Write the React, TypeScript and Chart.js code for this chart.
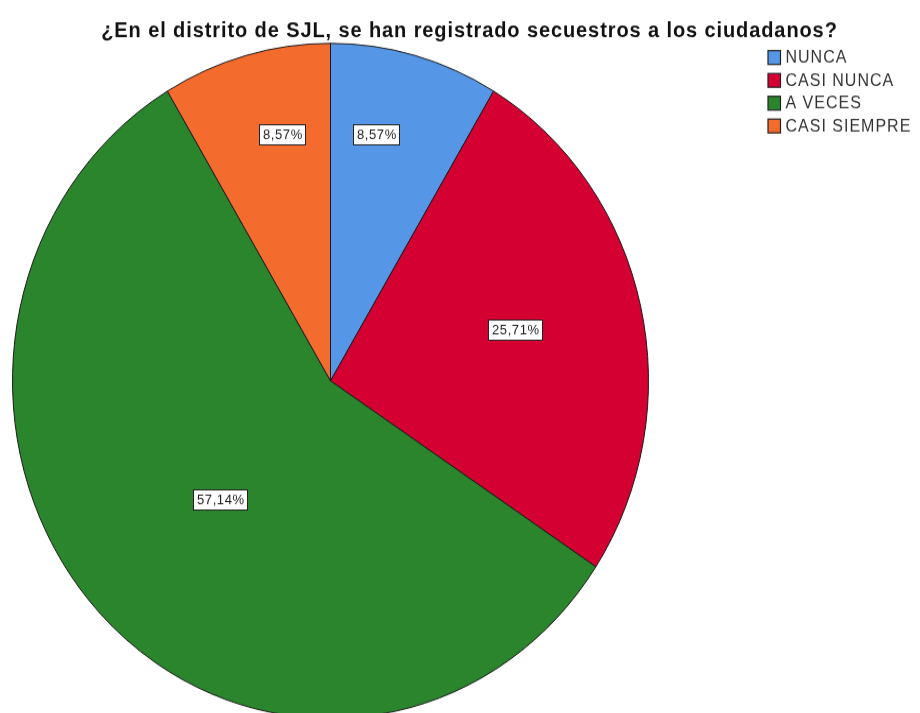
import React, { useEffect, useRef } from "react";
import { Chart, registerables } from "chart.js";

Chart.register(...registerables);

const TITLE = "¿En el distrito de SJL, se han registrado secuestros a los ciudadanos?";
const categories = ["NUNCA", "CASI NUNCA", "A VECES", "CASI SIEMPRE"];
const counts = [3, 9, 20, 3];
const colors = ["#5596e6", "#d50032", "#2a852c", "#f46b2e"];

// label placement within each slice: fraction of angle span, fraction of radius
const labelAngleFrac = [0.36, 0.482, 0.4925, 0.615];
const labelRadiusFrac = [0.744, 0.6, 0.495, 0.746];

const W = 920;
const H = 700;
const SY = 1.061;

const FONT = '"Liberation Sans", Arial, sans-serif';

const overlayPlugin = {
  id: "overlay",
  afterDatasetsDraw(chart: any) {
    const ctx = chart.ctx as CanvasRenderingContext2D;
    const meta = chart.getDatasetMeta(0);
    const data = chart.data.datasets[0].data as number[];
    const total = data.reduce((a, b) => a + b, 0);

    // slice labels
    meta.data.forEach((arc: any, i: number) => {
      const { x, y, startAngle, endAngle, outerRadius } = arc.getProps(
        ["x", "y", "startAngle", "endAngle", "outerRadius"],
        true
      );
      const a = startAngle + labelAngleFrac[i] * (endAngle - startAngle);
      const r = labelRadiusFrac[i] * outerRadius;
      const cx = x + r * Math.cos(a);
      const cy = y + r * Math.sin(a);
      const txt = ((data[i] / total) * 100).toFixed(2).replace(".", ",") + "%";
      ctx.save();
      ctx.font = `13px ${FONT}`;
      (ctx as any).letterSpacing = "0.6px";
      const tw = ctx.measureText(txt).width;
      const bw = Math.round(tw + 6);
      const bh = 19;
      const bx = Math.round(cx - bw / 2) + 0.5;
      const by = Math.round(cy - bh / 2) + 0.5;
      ctx.fillStyle = "#ffffff";
      ctx.fillRect(bx, by, bw, bh);
      ctx.strokeStyle = "#222222";
      ctx.lineWidth = 1;
      ctx.strokeRect(bx, by, bw, bh);
      ctx.fillStyle = "#1e1e1e";
      ctx.textAlign = "left";
      ctx.textBaseline = "middle";
      ctx.fillText(txt, bx + 3.5, by + bh / 2 + 0.5);
      ctx.restore();
    });

    // title
    ctx.save();
    ctx.font = `bold 20px ${FONT}`;
    (ctx as any).letterSpacing = "0.9px";
    ctx.fillStyle = "#111111";
    ctx.textAlign = "center";
    ctx.textBaseline = "alphabetic";
    ctx.fillText(TITLE, 469.5, 34.5);
    ctx.restore();

    // legend
    const labels = chart.data.labels as string[];
    const bg = chart.data.datasets[0].backgroundColor as string[];
    ctx.save();
    ctx.font = `16px ${FONT}`;
    (ctx as any).letterSpacing = "1px";
    labels.forEach((lab, i) => {
      const yc = 54.2 + i * 21.5;
      ctx.fillStyle = bg[i];
      ctx.fillRect(768, yc - 6.5, 12.5, 13);
      ctx.strokeStyle = "#222222";
      ctx.lineWidth = 1.2;
      ctx.strokeRect(768, yc - 6.5, 12.5, 13);
      ctx.fillStyle = "#333333";
      ctx.textAlign = "left";
      ctx.textBaseline = "middle";
      ctx.fillText(lab, 785.5, yc + 0.5);
    });
    ctx.restore();
  },
};

export default function App() {
  const ref = useRef<HTMLCanvasElement | null>(null);

  useEffect(() => {
    if (!ref.current) return;
    const chart = new Chart(ref.current, {
      type: "pie",
      data: {
        labels: categories,
        datasets: [
          {
            data: counts,
            backgroundColor: colors,
            borderColor: "#1a1a1a",
            borderWidth: 1,
          },
        ],
      },
      options: {
        responsive: false,
        devicePixelRatio: 1,
        animation: false,
        layout: {
          padding: { left: 12, right: 271, top: 40.3, bottom: 22.7 },
        },
        plugins: {
          legend: { display: false },
          title: { display: false },
          tooltip: { enabled: false },
        },
      },
      plugins: [overlayPlugin],
    });
    return () => chart.destroy();
  }, []);

  return (
    <div
      style={{
        position: "fixed",
        left: 0,
        top: 0,
        width: W,
        height: 713,
        overflow: "hidden",
        background: "#ffffff",
      }}
    >
      <canvas
        ref={ref}
        width={W}
        height={H}
        style={{ width: `${W}px`, height: `${H * SY}px`, display: "block" }}
      />
    </div>
  );
}
